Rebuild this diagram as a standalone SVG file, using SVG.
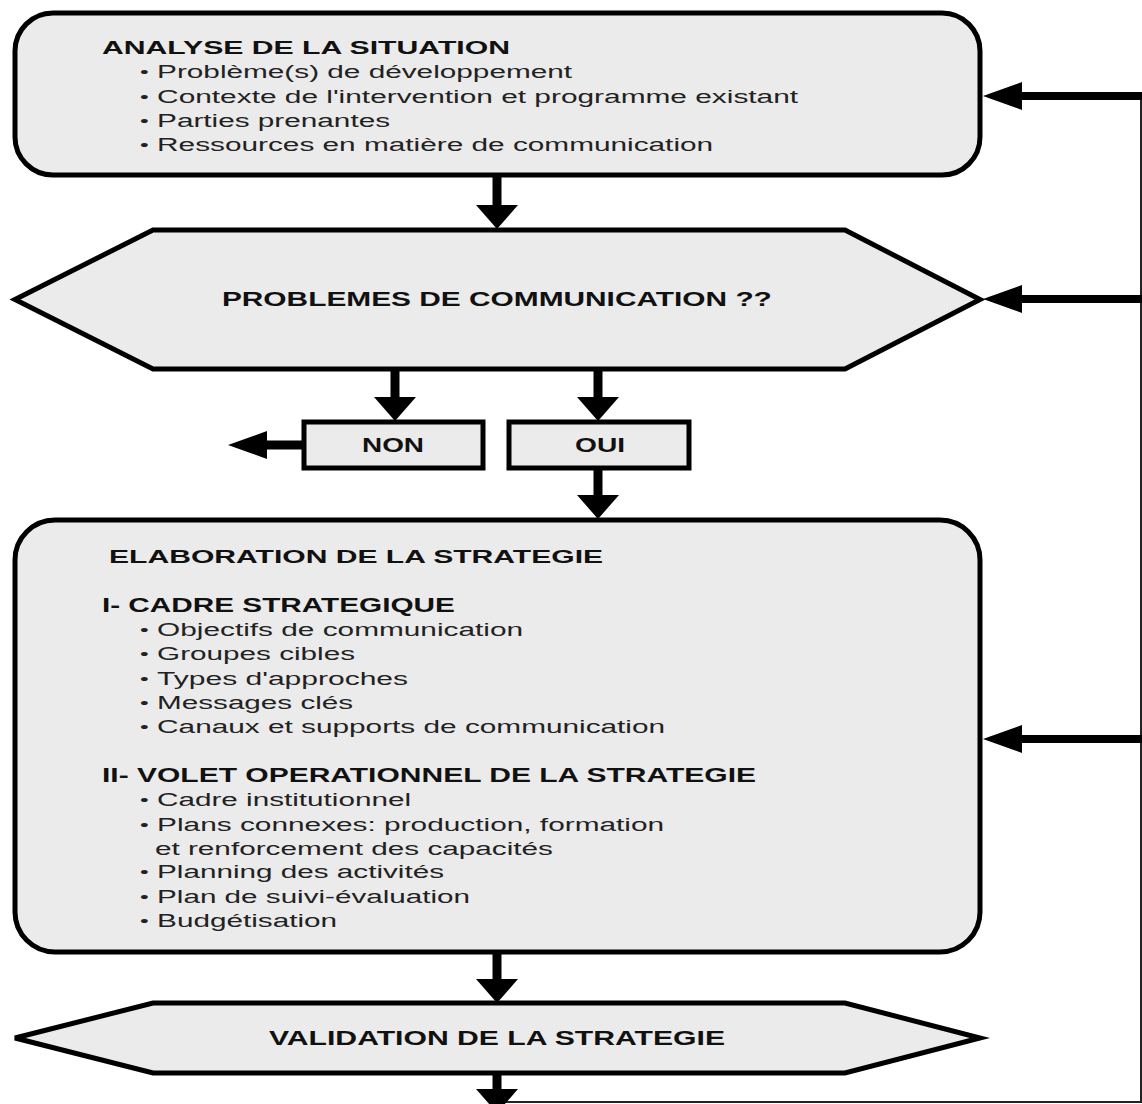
<svg xmlns="http://www.w3.org/2000/svg" width="1142" height="1104" viewBox="0 0 1142 1104">
<style>
.shape{fill:#ebebeb;stroke:#000;stroke-width:5;stroke-linejoin:miter}
.t{font-family:"Liberation Sans",Arial,sans-serif;fill:#222}
.h{font-weight:bold;font-size:19px;fill:#111}
.hh{font-weight:bold;font-size:20px;fill:#111}
.b{font-size:18px}
.bu{font-size:15px}
.thick{stroke:#000;stroke-width:9;fill:none}
.thickh{stroke:#000;stroke-width:8;fill:none}
.thin{stroke:#222;stroke-width:2;fill:none}
</style>
<defs>
<marker id="ahV" markerUnits="userSpaceOnUse" markerWidth="24" markerHeight="42" refX="0" refY="21" orient="auto" overflow="visible">
<path d="M0,0 L24,21 L0,42 z" fill="#000"/>
</marker>
<marker id="ahH" markerUnits="userSpaceOnUse" markerWidth="39" markerHeight="28" refX="0" refY="14" orient="auto" overflow="visible">
<path d="M0,0 L39,14 L0,28 z" fill="#000"/>
</marker>
</defs>
<rect width="1142" height="1104" fill="#fff"/>

<g id="connectors">
<polyline class="thin" points="497,1102 1141,1102 1141,96"/>
<line class="thickh" x1="1142" y1="96" x2="1022" y2="96" marker-end="url(#ahH)"/>
<line class="thickh" x1="1142" y1="299" x2="1022" y2="299" marker-end="url(#ahH)"/>
<line class="thickh" x1="1142" y1="739" x2="1022" y2="739" marker-end="url(#ahH)"/>
<line class="thick" x1="497" y1="177" x2="497" y2="205" marker-end="url(#ahV)"/>
<line class="thick" x1="395" y1="370" x2="395" y2="397" marker-end="url(#ahV)"/>
<line class="thick" x1="598" y1="370" x2="598" y2="397" marker-end="url(#ahV)"/>
<line class="thick" x1="302" y1="445" x2="267" y2="445" marker-end="url(#ahH)"/>
<line class="thick" x1="598" y1="468" x2="598" y2="495" marker-end="url(#ahV)"/>
<line class="thick" x1="497" y1="952" x2="497" y2="979" marker-end="url(#ahV)"/>
<line class="thick" x1="497" y1="1073" x2="497" y2="1089" marker-end="url(#ahV)"/>
</g>

<g id="analyse">
<rect class="shape" x="15" y="13" width="965" height="162" rx="38" ry="38"/>
<g transform="scale(1.65,1)">
<text class="t h" x="61.8" y="54" textLength="247.3" lengthAdjust="spacingAndGlyphs">ANALYSE DE LA SITUATION</text>
<text class="t bu" x="84.8" y="77">•</text>
<text class="t b" x="95.2" y="78" textLength="251.5" lengthAdjust="spacingAndGlyphs">Problème(s) de développement</text>
<text class="t bu" x="84.8" y="102">•</text>
<text class="t b" x="95.2" y="103" textLength="388.5" lengthAdjust="spacingAndGlyphs">Contexte de l'intervention et programme existant</text>
<text class="t bu" x="84.8" y="126">•</text>
<text class="t b" x="95.2" y="127" textLength="141.2" lengthAdjust="spacingAndGlyphs">Parties prenantes</text>
<text class="t bu" x="84.8" y="150">•</text>
<text class="t b" x="95.2" y="151" textLength="337" lengthAdjust="spacingAndGlyphs">Ressources en matière de communication</text>
</g>
</g>

<g id="problemes">
<polygon class="shape" points="15,299.5 153,230 845,230 980,299.5 845,369 153,369"/>
<text class="t hh" transform="scale(1.65,1)" x="134.5" y="306" textLength="333.3" lengthAdjust="spacingAndGlyphs">PROBLEMES DE COMMUNICATION ??</text>
</g>

<g id="non">
<rect class="shape" x="304" y="422" width="179" height="46"/>
<text class="t hh" transform="scale(1.65,1)" x="219.4" y="452" textLength="37.6" lengthAdjust="spacingAndGlyphs">NON</text>
</g>

<g id="oui">
<rect class="shape" x="509" y="422" width="180" height="46"/>
<text class="t hh" transform="scale(1.65,1)" x="348.5" y="452" textLength="30.3" lengthAdjust="spacingAndGlyphs">OUI</text>
</g>

<g id="elaboration">
<rect class="shape" x="15" y="520" width="965" height="432" rx="40" ry="40"/>
<g transform="scale(1.65,1)">
<text class="t h" x="66.1" y="563" textLength="299.4" lengthAdjust="spacingAndGlyphs">ELABORATION DE LA STRATEGIE</text>
<text class="t hh" x="61.8" y="612" textLength="213.9" lengthAdjust="spacingAndGlyphs">I- CADRE STRATEGIQUE</text>
<text class="t bu" x="84.8" y="635">•</text>
<text class="t b" x="95.2" y="636" textLength="221.8" lengthAdjust="spacingAndGlyphs">Objectifs de communication</text>
<text class="t bu" x="84.8" y="659">•</text>
<text class="t b" x="95.2" y="660" textLength="120" lengthAdjust="spacingAndGlyphs">Groupes cibles</text>
<text class="t bu" x="84.8" y="684">•</text>
<text class="t b" x="95.2" y="685" textLength="152.1" lengthAdjust="spacingAndGlyphs">Types d'approches</text>
<text class="t bu" x="84.8" y="708">•</text>
<text class="t b" x="95.2" y="709" textLength="118.8" lengthAdjust="spacingAndGlyphs">Messages clés</text>
<text class="t bu" x="84.8" y="732">•</text>
<text class="t b" x="95.2" y="733" textLength="307.9" lengthAdjust="spacingAndGlyphs">Canaux et supports de communication</text>
<text class="t hh" x="61.8" y="782" textLength="396.4" lengthAdjust="spacingAndGlyphs">II- VOLET OPERATIONNEL DE LA STRATEGIE</text>
<text class="t bu" x="84.8" y="805">•</text>
<text class="t b" x="95.2" y="806" textLength="153.9" lengthAdjust="spacingAndGlyphs">Cadre institutionnel</text>
<text class="t bu" x="84.8" y="830">•</text>
<text class="t b" x="95.2" y="831" textLength="307.3" lengthAdjust="spacingAndGlyphs">Plans connexes: production, formation</text>
<text class="t b" x="93.9" y="855" textLength="241.2" lengthAdjust="spacingAndGlyphs">et renforcement des capacités</text>
<text class="t bu" x="84.8" y="877">•</text>
<text class="t b" x="95.2" y="878" textLength="173.9" lengthAdjust="spacingAndGlyphs">Planning des activités</text>
<text class="t bu" x="84.8" y="902">•</text>
<text class="t b" x="95.2" y="903" textLength="189.7" lengthAdjust="spacingAndGlyphs">Plan de suivi-évaluation</text>
<text class="t bu" x="84.8" y="926">•</text>
<text class="t b" x="95.2" y="927" textLength="109.1" lengthAdjust="spacingAndGlyphs">Budgétisation</text>
</g>
</g>

<g id="validation">
<polygon class="shape" points="15,1038 153,1003 845,1003 980,1038 845,1073 153,1073"/>
<text class="t hh" transform="scale(1.65,1)" x="163" y="1045" textLength="276.4" lengthAdjust="spacingAndGlyphs">VALIDATION DE LA STRATEGIE</text>
</g>
</svg>
